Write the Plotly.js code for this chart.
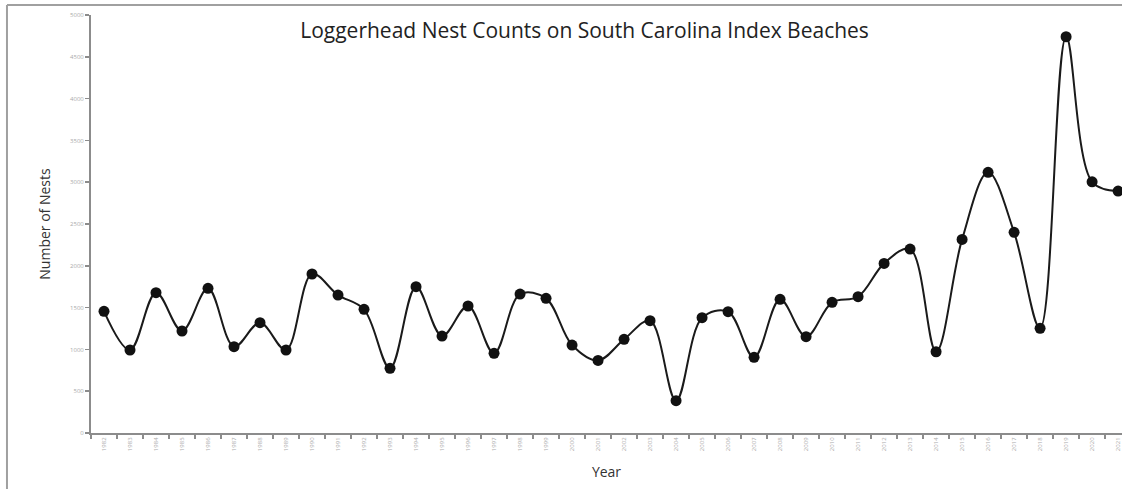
<!DOCTYPE html>
<html>
<head>
<meta charset="utf-8">
<script src="https://cdn.plot.ly/plotly-3.0.1.min.js"></script>
<style>html,body{margin:0;padding:0;background:#fff;}#chart{width:1122px;height:489px;}</style>
</head>
<body>
<div id="chart"></div>
<script>
const years = ["1982","1983","1984","1985","1986","1987","1988","1989","1990","1991",
               "1992","1993","1994","1995","1996","1997","1998","1999","2000","2001",
               "2002","2003","2004","2005","2006","2007","2008","2009","2010","2011",
               "2012","2013","2014","2015","2016","2017","2018","2019","2020","2021"];
const nests = [1455, 993, 1678, 1220, 1730, 1032, 1319, 993, 1902, 1650,
               1479, 774, 1750, 1160, 1519, 953, 1662, 1611, 1052, 868,
               1120, 1343, 386, 1379, 1451, 905, 1599, 1152, 1563, 1630,
               2029, 2200, 972, 2316, 3118, 2400, 1252, 4740, 3005, 2894];
const yTicks = [0, 500, 1000, 1500, 2000, 2500, 3000, 3500, 4000, 4500, 5000];
const titleText = "Loggerhead Nest Counts on South Carolina Index Beaches";

const trace = {
  x: years, y: nests, type: "scatter", mode: "lines+markers",
  line: {shape: "spline", smoothing: 1, color: "#1a1a1a", width: 2},
  marker: {size: 11, color: "#111"},
  cliponaxis: false, hoverinfo: "x+y"
};
const axisCommon = {
  type: "category", range: [-0.5, 39.15], tickson: "boundaries",
  showgrid: false, zeroline: false, showline: true, linecolor: "#8c8c8c", linewidth: 2,
  tickcolor: "#8c8c8c", ticklen: 4, tickwidth: 1.5
};
const layout = {
  width: 1122, height: 489,
  margin: {l: 91, r: 0, t: 15, b: 56},
  paper_bgcolor: "#fff", plot_bgcolor: "#fff",
  showlegend: false,
  title: {text: titleText, x: 0.521, xanchor: "center", y: 0.937, yanchor: "middle",
          font: {family: "Open Sans, sans-serif", size: 21, color: "#222"}},
  xaxis: Object.assign({}, axisCommon, {
    ticks: "outside", tickangle: -90,
    tickfont: {family: "Open Sans, sans-serif", size: 6, color: "#aaa"},
    title: {text: "Year", standoff: 17, font: {family: "Open Sans, sans-serif", size: 14, color: "#333"}}
  }),
  xaxis2: Object.assign({}, axisCommon, {
    overlaying: "x", anchor: "y", side: "bottom", ticks: "inside", showticklabels: false, showline: false
  }),
  yaxis: {
    range: [0, 5000], tickvals: yTicks, ticktext: yTicks.map(String),
    showgrid: false, zeroline: false, showline: true, linecolor: "#8c8c8c", linewidth: 2,
    ticks: "outside", ticklen: 4, tickcolor: "#8c8c8c", tickwidth: 1.5,
    tickfont: {family: "Open Sans, sans-serif", size: 6, color: "#aaa"},
    title: {text: "Number of Nests", standoff: 16, font: {family: "Open Sans, sans-serif", size: 14, color: "#333"}}
  },
  shapes: [
    {type: "line", xref: "paper", yref: "paper", x0: -0.0815, x1: -0.0815, y0: -0.14, y1: 1.024,
     line: {color: "#a0a0a0", width: 2}},
    {type: "line", xref: "paper", yref: "paper", x0: -0.0815, x1: 1.0, y0: 1.024, y1: 1.024,
     line: {color: "#a0a0a0", width: 2}}
  ]
};
Plotly.newPlot("chart", [trace], layout, {displayModeBar: false, staticPlot: true});
</script>
</body>
</html>
